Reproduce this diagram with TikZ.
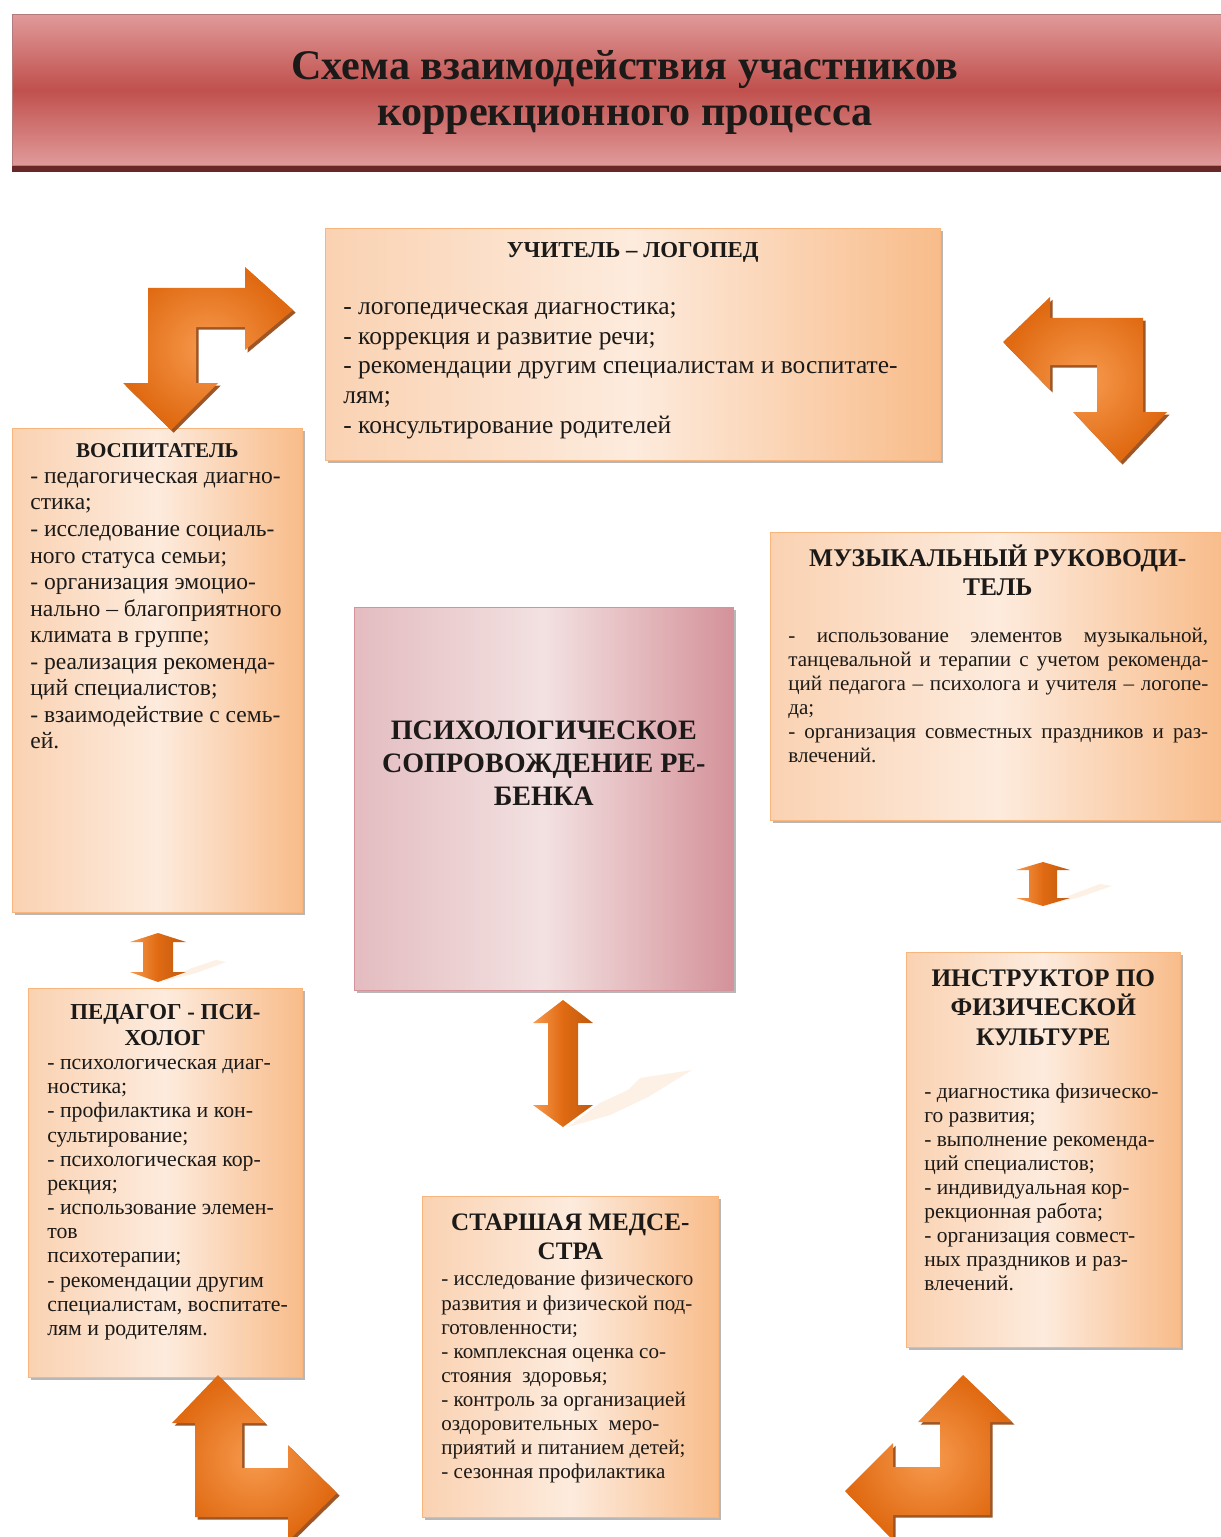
\documentclass[tikz,border=0pt]{standalone}
\usepackage{fontspec}
\setmainfont{Liberation Serif}
\usepackage{tikz}
\usetikzlibrary{positioning,
                calc,
                shadows}
\definecolor{ink}{HTML}{1C1A18}
\definecolor{peachLight}{HTML}{FDEBDD}
\definecolor{peachEdge}{HTML}{FAD2B2}
\definecolor{peachDark}{HTML}{F8BC8A}
\definecolor{roseLight}{HTML}{F3E1E1}
\definecolor{roseMid}{HTML}{E3BCC0}
\definecolor{roseDark}{HTML}{D4929A}
\definecolor{bannerPink}{HTML}{E09A9A}
\definecolor{bannerRed}{HTML}{C0504D}
\definecolor{bannerShade}{HTML}{6A2727}
\definecolor{arrowLight}{HTML}{F79A4E}
\definecolor{arrowDark}{HTML}{E06A12}
\definecolor{arrowShade}{HTML}{94440F}
\tikzset{banner/.style=
   {rectangle,
    anchor=north west,
    draw=bannerPink!80!black,
    line width=0.3pt,
    top color=bannerPink,
    bottom color=bannerPink,
    middle color=bannerRed,
    drop shadow={shadow xshift=0pt, shadow yshift=-4pt, fill=bannerShade, opacity=1}}}
\tikzset{card/.style=
   {rectangle,
    anchor=north west,
    draw=peachDark!90!orange,
    line width=0.4pt,
    left color=peachEdge,
    right color=peachDark,
    middle color=peachLight,
    drop shadow={shadow xshift=1.6pt, shadow yshift=-1.6pt, fill=black!35, opacity=0.8}}}
\tikzset{coreCard/.style=
   {rectangle,
    anchor=north west,
    draw=roseDark,
    line width=0.4pt,
    left color=roseMid,
    right color=roseDark,
    middle color=roseLight,
    drop shadow={shadow xshift=1.6pt, shadow yshift=-1.6pt, fill=black!35, opacity=0.8}}}
\tikzset{cardHead/.style=
   {inner sep=0pt,
    align=center,
    anchor=north,
    text=ink,
    execute at begin node=\strut}}
\tikzset{cardText/.style=
   {inner sep=0pt,
    align=left,
    anchor=north west,
    text=ink,
    execute at begin node=\strut}}
\tikzset{bentArrow/.style=
   {inner color=arrowLight,
    outer color=arrowDark,
    drop shadow={shadow xshift=1.5pt, shadow yshift=-1.5pt, fill=arrowShade, opacity=0.9}}}
\tikzset{dblArrow/.style=
   {left color=arrowLight,
    right color=arrowDark!85!black,
    middle color=arrowDark}}
\tikzset{ghost/.style = {fill=peachDark, opacity=0.22}}

\begin{document}
\begin{tikzpicture}[x=0.02cm, y=-0.02cm]

    % Canvas
    \useasboundingbox (0,0) rectangle (1220,1537);
    \fill [white] (0,0) rectangle (1220,1537);

    % Place banner
    \node [banner, minimum width=24.3cm, minimum height=3.02cm] (banner) at (12,14) {};
    \node [cardHead, font=\fontsize{24}{26}\bfseries\selectfont]
      (bannerTitle) at ($(banner.north west)+(613,36)$)
      {Схема взаимодействия участников\\коррекционного процесса};

    % Place cards
    \node [card, minimum width=12.3cm, minimum height=4.64cm] (speechTherapist) at (325,228) {};
    \node [card, minimum width=5.8cm, minimum height=9.68cm] (educator) at (12,428) {};
    \node [coreCard, minimum width=7.58cm, minimum height=7.66cm] (psychSupport) at (354,607) {};
    \node [card, minimum width=9.1cm, minimum height=5.76cm] (musicDirector) at (770,532) {};
    \node [card, minimum width=5.48cm, minimum height=7.78cm] (psychologist) at (28,988) {};
    \node [card, minimum width=5.92cm, minimum height=6.42cm] (nurse) at (422,1196) {};
    \node [card, minimum width=5.48cm, minimum height=7.9cm] (instructor) at (906,952) {};

    % Card texts
    \node [cardHead, below=0.21cm of speechTherapist.north,
           font=\fontsize{13}{15}\bfseries\selectfont] (speechTherapistHead)
      {УЧИТЕЛЬ – ЛОГОПЕД};
    \node [cardText, font=\fontsize{14.5}{16.9}\selectfont] (speechTherapistText)
      at ($(speechTherapist.north west)+(18,74)$)
      {- логопедическая диагностика;\\
       - коррекция и развитие речи;\\
       - рекомендации другим специалистам и воспитате-\\
       лям;\\
       - консультирование родителей};

    \node [cardHead, below=0.22cm of educator.north,
           font=\fontsize{12}{14.4}\bfseries\selectfont] (educatorHead)
      {ВОСПИТАТЕЛЬ};
    \node [cardText, font=\fontsize{13.4}{15.1}\selectfont] (educatorText)
      at ($(educator.north west)+(18,44)$)
      {- педагогическая диагно-\\
       стика;\\
       - исследование социаль-\\
       ного статуса семьи;\\
       - организация эмоцио-\\
       нально – благоприятного\\
       климата в группе;\\
       - реализация рекоменда-\\
       ций специалистов;\\
       - взаимодействие с семь-\\
       ей.};

    \node [cardHead, anchor=center, font=\fontsize{16}{18.8}\bfseries\selectfont]
      (psychSupportText) at ($(psychSupport.center)+(0,-31)$)
      {ПСИХОЛОГИЧЕСКОЕ\\СОПРОВОЖДЕНИЕ РЕ-\\БЕНКА};

    \node [cardHead, below=0.24cm of musicDirector.north,
           font=\fontsize{14.5}{16.5}\bfseries\selectfont] (musicDirectorHead)
      {МУЗЫКАЛЬНЫЙ РУКОВОДИ-\\ТЕЛЬ};
    \node [cardText, align=justify, text width=8.4cm,
           font=\fontsize{12}{13.7}\selectfont]
      (musicDirectorText) at ($(musicDirector.north west)+(18,93)$)
      {\tolerance=10000 - использование элементов музыкальной,\linebreak
       танцевальной и терапии с учетом рекоменда-\linebreak
       ций педагога – психолога и учителя – логопе-\linebreak
       да;\par
       - организация совместных праздников и раз-\linebreak
       влечений.};

    \node [cardHead, below=0.32cm of psychologist.north,
           font=\fontsize{13}{14.8}\bfseries\selectfont] (psychologistHead)
      {ПЕДАГОГ - ПСИ-\\ХОЛОГ};
    \node [cardText, font=\fontsize{12.4}{13.75}\selectfont] (psychologistText)
      at ($(psychologist.north west)+(19,71)$)
      {- психологическая диаг-\\
       ностика;\\
       - профилактика и кон-\\
       сультирование;\\
       - психологическая кор-\\
       рекция;\\
       - использование элемен-\\
       тов\\
       психотерапии;\\
       - рекомендации другим\\
       специалистам, воспитате-\\
       лям и родителям.};

    \node [cardHead, below=0.36cm of nurse.north,
           font=\fontsize{14.3}{16}\bfseries\selectfont] (nurseHead)
      {СТАРШАЯ МЕДСЕ-\\СТРА};
    \node [cardText, font=\fontsize{12}{13.7}\selectfont] (nurseText)
      at ($(nurse.north west)+(19,75)$)
      {- исследование физического\\
       развития и физической под-\\
       готовленности;\\
       - комплексная оценка со-\\
       стояния~ здоровья;\\
       - контроль за организацией\\
       оздоровительных~ меро-\\
       приятий и питанием детей;\\
       - сезонная профилактика};

    \node [cardHead, below=0.34cm of instructor.north,
           font=\fontsize{14.4}{16.8}\bfseries\selectfont] (instructorHead)
      {ИНСТРУКТОР ПО\\ФИЗИЧЕСКОЙ\\КУЛЬТУРЕ};
    \node [cardText, font=\fontsize{12.2}{13.7}\selectfont] (instructorText)
      at ($(instructor.north west)+(18,131)$)
      {- диагностика физическо-\\
       го развития;\\
       - выполнение рекоменда-\\
       ций специалистов;\\
       - индивидуальная кор-\\
       рекционная работа;\\
       - организация совмест-\\
       ных праздников и раз-\\
       влечений.};

    % Bent arrows
    \path [bentArrow] (148,288) -- (245,288) -- (245,267) -- (293,310) -- (245,350)
      -- (245,327) -- (196,327) -- (196,383) -- (218,383) -- (171,430)
      -- (123,383) -- (148,383) -- cycle;
    \path [bentArrow] (1003,342) -- (1050,297) -- (1050,318) -- (1143,318)
      -- (1143,412) -- (1167,412) -- (1120,462) -- (1073,412) -- (1097,412)
      -- (1097,365) -- (1050,365) -- (1050,390) -- cycle;
    \path [bentArrow] (218,1375) -- (265,1423) -- (242,1423) -- (242,1468)
      -- (288,1468) -- (288,1445) -- (337,1493) -- (288,1541) -- (288,1517)
      -- (195,1517) -- (195,1423) -- (172,1423) -- cycle;
    \path [bentArrow] (963,1375) -- (1012,1422) -- (990,1422) -- (990,1515)
      -- (893,1515) -- (893,1540) -- (845,1491) -- (893,1443) -- (893,1467)
      -- (940,1467) -- (940,1422) -- (918,1422) -- cycle;

    % Double arrows
    \path [ghost] (160,982) -- (192,968) -- (216,960) -- (226,962) -- (196,973) -- cycle;
    \path [dblArrow] (158,933) -- ++(28,9) -- ++(-13,0) -- ++(0,30) -- ++(13,0)
      -- ++(-28,10) -- ++(-28,-10) -- ++(13,0) -- ++(0,-30) -- ++(-13,0) -- cycle;

    \path [ghost] (1045,906) -- (1076,893) -- (1100,884) -- (1112,886) -- (1080,897) -- cycle;
    \path [dblArrow] (1043,862) -- ++(27,8) -- ++(-13,0) -- ++(0,28) -- ++(13,0)
      -- ++(-27,8) -- ++(-27,-8) -- ++(13,0) -- ++(0,-28) -- ++(-13,0) -- cycle;

    \path [ghost] (568,1127) -- (600,1103) -- (628,1090) -- (640,1078) -- (692,1070)
      -- (656,1092) -- (648,1097) -- (610,1115) -- cycle;
    \path [dblArrow] (563,1000) -- ++(30,23) -- ++(-15,0) -- ++(0,82) -- ++(15,0)
      -- ++(-30,22) -- ++(-30,-22) -- ++(15,0) -- ++(0,-82) -- ++(-15,0) -- cycle;

\end{tikzpicture}
\end{document}
